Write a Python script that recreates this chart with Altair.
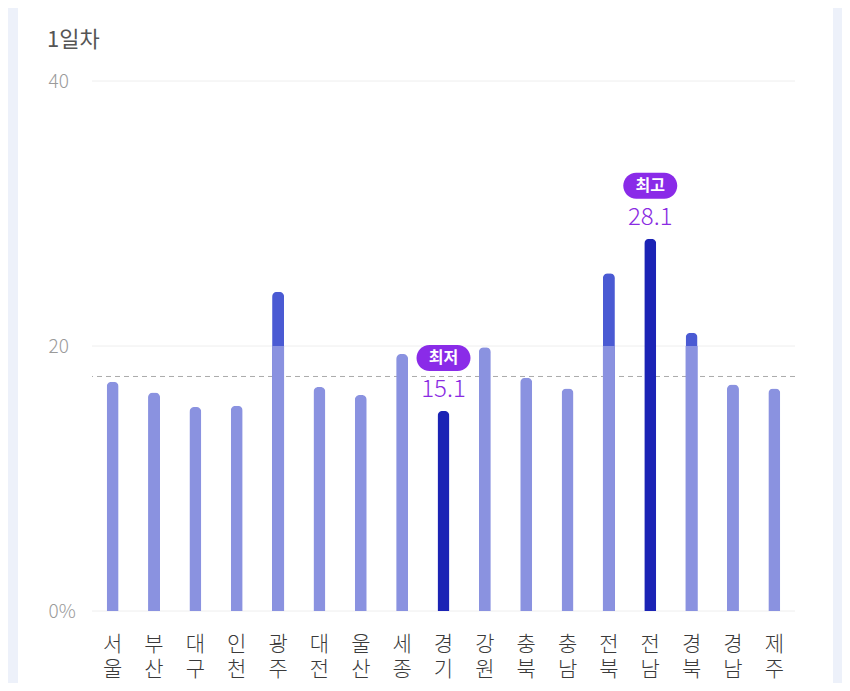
import altair as alt
import pandas as pd

regions = ["서울", "부산", "대구", "인천", "광주", "대전", "울산", "세종", "경기",
           "강원", "충북", "충남", "전북", "전남", "경북", "경남", "제주"]
values = [17.3, 16.5, 15.4, 15.5, 24.1, 16.9, 16.3, 19.4, 15.1,
          19.9, 17.6, 16.8, 25.5, 28.1, 21.0, 17.1, 16.8]
average = 17.7
threshold = 20
y_ticks = [0, 20, 40]
title_text = "1일차"
badge_min = "최저"
badge_max = "최고"

vmin, vmax = min(values), max(values)
rows = []
for r, v in zip(regions, values):
    if v == vmax:
        kind, badge = "max", badge_max
    elif v == vmin:
        kind, badge = "min", badge_min
    elif v > threshold:
        kind, badge = "over", ""
    else:
        kind, badge = "normal", ""
    rows.append({"region": r, "value": v, "kind": kind, "badge": badge,
                 "low": min(v, threshold), "label": f"{v:.1f}"})
df = pd.DataFrame(rows)

FONT = "Noto Sans CJK KR"
W, H = 703, 530

x_enc = alt.X("region:N", sort=regions,
              scale=alt.Scale(paddingInner=0, paddingOuter=0),
              axis=alt.Axis(title=None, domain=False, ticks=False, labelAngle=0, zindex=1,
                            labelExpr="split(datum.label, '')",
                            labelFont=FONT, labelFontSize=21, labelFontWeight=300,
                            labelColor="#3A3A3A",
                            labelPadding=22, labelLineHeight=25))
y_scale = alt.Scale(domain=[0, 40])

card = alt.Chart(alt.Data(values=[{"a": 1}])).mark_rect(color="white").encode(
    x=alt.value(-74), x2=alt.value(741), y=alt.value(-100), y2=alt.value(700))

grid = alt.Chart(pd.DataFrame({"t": y_ticks})).mark_rule(color="#EEEEEE", strokeWidth=1).encode(
    y=alt.Y("t:Q", scale=y_scale,
            axis=alt.Axis(title=None, domain=False, ticks=False, grid=False, values=y_ticks,
                          zindex=1,
                          labelExpr="datum.value == 0 ? '0%' : datum.label",
                          labelAlign="left", labelPadding=44, labelFont=FONT,
                          labelFontSize=19, labelColor="#9A9A9A", labelFontWeight=300)))

avg_rule = alt.Chart(pd.DataFrame({"avg": [average]})).mark_rule(
    color="#AAAAAA", strokeDash=[5, 4], strokeWidth=1).encode(y=alt.Y("avg:Q", scale=y_scale))

base = alt.Chart(df)

bars = base.mark_bar(size=12, cornerRadiusTopLeft=5, cornerRadiusTopRight=5).encode(
    x=x_enc,
    y=alt.Y("value:Q", scale=y_scale),
    color=alt.Color("kind:N", legend=None,
                    scale=alt.Scale(domain=["normal", "over", "min", "max"],
                                    range=["#8A92E0", "#4A5AD3", "#1B23B5", "#1B23B5"])))

low_overlay = base.transform_filter("datum.kind == 'over'").mark_bar(size=12, color="#8A92E0").encode(
    x=x_enc, y=alt.Y("low:Q", scale=y_scale))

extremes = base.transform_filter("datum.kind == 'min' || datum.kind == 'max'")

pill = extremes.mark_bar(width=54, cornerRadius=13, color="#8A2BE8", yOffset=-66, y2Offset=-40).encode(
    x=x_enc, y=alt.Y("value:Q", scale=y_scale), y2="value:Q")

pill_text = extremes.mark_text(color="white", font=FONT, fontSize=16, fontWeight="bold",
                               baseline="middle", dy=-53).encode(
    x=x_enc, y=alt.Y("value:Q", scale=y_scale), text="badge:N")

value_text = extremes.mark_text(color="#8A2BE2", font=FONT, fontSize=24, fontWeight=300,
                                baseline="middle", dy=-21).encode(
    x=x_enc, y=alt.Y("value:Q", scale=y_scale), text="label:N")

title = alt.Chart(alt.Data(values=[{"t": title_text}])).mark_text(
    font=FONT, fontSize=22, color="#555555", align="left", baseline="middle").encode(
    x=alt.value(-45), y=alt.value(-41), text="t:N")

chart = alt.layer(card, grid, avg_rule, bars, low_overlay, pill, pill_text, value_text, title).properties(
    width=W, height=H,
    autosize=alt.AutoSizeParams(type="none"),
    padding={"left": 84, "top": 73, "right": 47, "bottom": 72},
    background="#EDF1FA",
).configure_view(stroke=None)

chart.save("out.html", embed_options={"renderer": "svg", "actions": False})
